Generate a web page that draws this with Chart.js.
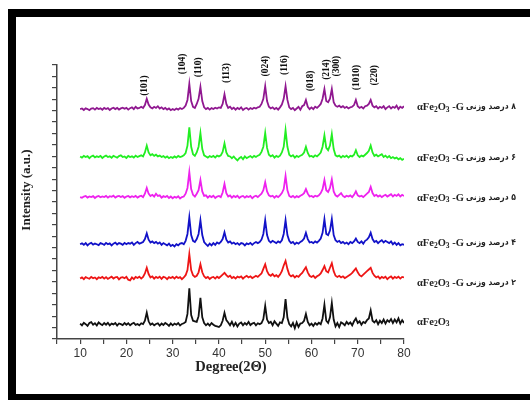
<!DOCTYPE html>
<html><head><meta charset="utf-8">
<script src="https://cdn.jsdelivr.net/npm/chart.js@4.4.0/dist/chart.umd.min.js"></script>
<style>html,body{margin:0;padding:0;background:#fff}#wrap{width:530px;height:400px}</style>
</head><body><div id="wrap"><canvas id="c" width="530" height="400"></canvas></div>
<script>
// 2θ sampling (degrees)
const angles=[
10,10.4,10.8,11.2,11.6,12,12.4,12.8,13.2,13.6,14,14.4,14.8,15.2,15.6,16,16.4,16.8,17.2,17.6,18,18.4,18.8,19.2,19.6,
20,20.4,20.8,21.2,21.6,22,22.4,22.8,23.2,23.6,24,24.4,24.8,25.2,25.6,26,26.4,26.8,27.2,27.6,28,28.4,28.8,29.2,29.6,
30,30.4,30.8,31.2,31.6,32,32.4,32.8,33.2,33.6,34,34.4,34.8,35.2,35.6,36,36.4,36.8,37.2,37.6,38,38.4,38.8,39.2,39.6,
40,40.4,40.8,41.2,41.6,42,42.4,42.8,43.2,43.6,44,44.4,44.8,45.2,45.6,46,46.4,46.8,47.2,47.6,48,48.4,48.8,49.2,49.6,
50,50.4,50.8,51.2,51.6,52,52.4,52.8,53.2,53.6,54,54.4,54.8,55.2,55.6,56,56.4,56.8,57.2,57.6,58,58.4,58.8,59.2,59.6,
60,60.4,60.8,61.2,61.6,62,62.4,62.8,63.2,63.6,64,64.4,64.8,65.2,65.6,66,66.4,66.8,67.2,67.6,68,68.4,68.8,69.2,69.6,
70,70.4,70.8,71.2,71.6,72,72.4,72.8,73.2,73.6,74,74.4,74.8,75.2,75.6,76,76.4,76.8,77.2,77.6,78,78.4,78.8,79.2,79.6,
80];

// intensities (a.u.) above each trace's own baseline
const pure=[
0.05,-0.1,0.12,0,-0.15,0.1,0.18,-0.05,0.08,-0.12,0.15,0.02,-0.08,0.1,-0.05,0.12,-0.1,0.05,-0.02,0.1,-0.12,0.06,0,-0.08,0.1,
-0.05,0.08,-0.1,0.04,0.12,-0.06,0.02,-0.1,0.08,0,0.3,1.0,0.25,-0.05,0.06,-0.1,0.02,0.08,-0.12,0.05,-0.08,0.1,0,-0.15,0.06,
-0.1,0.05,-0.05,0.1,-0.12,0.02,0.08,0.2,0.9,3.15,0.8,0.3,0.25,0.2,0.7,2.3,0.6,0.1,-0.1,0.05,-0.12,0.1,-0.05,-0.15,-0.2,
-0.25,-0.1,0.3,1.0,0.35,0.15,-0.1,0.2,-0.15,0.12,-0.2,0.05,0.15,-0.1,0.1,-0.05,0.2,-0.08,0.05,0.12,-0.1,0.08,0,0.1,0.45,
1.6,0.4,0.1,0.2,-0.1,0.25,0.05,-0.15,0.15,0.1,0.6,2.2,0.55,0,-0.2,0.1,-0.35,0.15,-0.25,0.05,0.1,0.3,0.9,0.2,-0.1,
0.05,-0.15,0.1,-0.05,0.12,0,0.5,1.7,0.3,0.1,0.6,1.85,0.4,-0.2,0.1,-0.25,0.15,0.05,-0.1,0.2,0,0.15,-0.1,0.25,0.5,
0.1,0.25,-0.05,0.2,0.1,0.35,0.5,1.2,0.3,0.15,0.35,0,0.3,0.1,0.4,0.05,0.35,0.2,0.45,0.1,0.4,0.15,0.5,0.05,0.35,
0.1];
const g2=[
-0.05,0.05,-0.1,0.08,0,-0.06,0.1,-0.02,0.05,-0.1,0.06,0,0.1,-0.05,0.08,-0.08,0.02,0.12,-0.04,0.06,0.1,-0.12,0.04,0.08,-0.02,
0.1,-0.15,-0.2,0.05,-0.1,0.1,0,0.12,-0.05,0.1,0.4,0.9,0.35,0.05,0.15,-0.05,0.1,0,0.12,-0.08,0.1,0.05,-0.1,0.08,0,
0.1,-0.05,0.12,0,0.08,-0.1,0.05,0.25,0.7,2.1,0.7,0.25,0.1,0.2,0.5,1.2,0.5,0.15,0,0.1,-0.08,0.05,0.1,-0.05,0.12,
0,0.15,0.3,0.45,0.25,0.1,0.2,0,0.1,-0.05,0.12,0.05,0.15,-0.05,0.1,0.2,0.05,0.15,0,0.1,0.2,0.1,0.25,0.4,0.8,
1.2,0.6,0.3,0.2,0.35,0.15,0.25,0.1,0.3,0.6,1.1,1.5,0.8,0.3,0.15,0.25,0.05,0.2,0.1,0.3,0.45,0.7,0.95,0.5,0.2,
0.1,0.2,0,0.15,0.25,0.4,0.7,1.05,0.6,0.5,0.9,1.3,0.6,0.2,0.1,0.2,0.05,0.15,0,0.1,0.2,0.3,0.45,0.65,0.85,
0.5,0.25,0.15,0.3,0.45,0.6,0.75,0.9,0.45,0.2,0.05,0.15,-0.05,0.1,0,0.12,-0.1,0.05,0.15,-0.05,0.1,0,0.12,-0.05,0.1,
0.05];
const g4=[
0,0.08,-0.05,0.1,-0.1,0.05,0.12,-0.04,0.06,0,-0.08,0.1,0.04,-0.06,0.12,0,0.08,-0.1,0.05,0.15,-0.02,0.1,0.05,-0.05,0.12,
0,0.1,0.05,0.15,-0.05,0.1,0.2,0.05,0.12,0.2,0.45,0.95,0.4,0.15,0.25,0.1,0.2,0.05,0.15,-0.05,0.1,0,-0.1,0.05,-0.15,
-0.05,-0.2,0,-0.1,0.05,0.1,0,0.3,0.9,2.35,0.8,0.3,0.2,0.45,0.9,2.1,0.8,0.2,0,-0.15,0.05,-0.1,0.1,-0.05,0.15,
0.05,0.2,0.45,1.05,0.4,0.15,0.25,0.05,0.15,0,0.1,-0.05,0.1,0.05,-0.1,0.08,0,0.12,-0.05,0.1,0.2,0.1,0.2,0.4,0.9,
2.1,0.8,0.3,0.15,0.3,0.2,0.1,0.25,0.15,0.35,0.9,2.1,0.8,0.3,0.1,0.2,0,0.15,0.05,0.2,0.3,0.5,1.0,0.45,0.15,
0.2,0.1,0.25,0.15,0.3,0.5,1.0,2.2,0.9,0.8,1.2,2.2,0.8,0.35,0.2,0.3,0.1,0.2,0.05,0.15,0,0.2,0.1,0.25,0.5,
0.2,0.1,0.25,0.05,0.3,0.4,0.6,1.0,0.45,0.2,0.3,0.1,0.25,0.35,0.15,0.3,0.2,0.1,0.25,0,0.15,-0.05,0.1,-0.1,0,
-0.05];
const g5=[
0,-0.06,0.05,0.1,-0.04,0.06,0,0.08,-0.08,0.04,0.1,-0.02,0.06,0,0.1,-0.05,0.08,0.02,0.12,-0.04,0.06,0.1,0,0.08,-0.06,
0.05,0.1,-0.02,0.08,0,0.1,-0.05,0.06,0.12,0,0.3,0.8,0.3,0.1,0.2,0.05,0.3,0.1,0.15,-0.05,0.08,0,0.1,-0.08,0.05,
-0.1,0.02,-0.05,0.08,-0.12,0,0.05,0.3,0.8,2.2,0.7,0.2,0.05,0.3,0.6,1.5,0.5,0.1,0.15,-0.05,0.1,0,0.12,-0.08,0.05,
0.1,0,0.4,1.15,0.35,0.05,0.15,-0.05,0.1,0,0.12,-0.08,0.05,0.1,-0.05,0.08,0,0.1,-0.1,0.05,0.12,0,0.15,0.3,0.6,
1.3,0.5,0.15,0.05,0.12,-0.05,0.1,0,0.15,0.35,0.7,1.85,0.6,0.1,0,0.1,-0.05,0.08,0,0.12,0.2,0.35,0.7,0.3,0.05,
0.1,0,0.12,0.05,0.15,0.35,0.7,1.5,0.6,0.45,0.8,1.55,0.5,0.15,0.05,0.2,0.35,0.1,0,0.12,0.05,0.15,0,0.2,0.5,
0.15,0.05,0.12,0,0.15,0.3,0.45,0.9,0.35,0.1,0.2,0.05,0.15,0,0.12,0.2,0.05,0.15,0.25,0.05,0.2,0.1,0.25,0.05,0.2,
0.1];
const g6=[
0.05,-0.05,0.1,0,0.08,-0.1,0.05,0.12,-0.04,0.06,0,0.1,-0.08,0.04,0.12,0,0.06,-0.06,0.1,0.02,-0.05,0.08,0.15,0,0.05,
-0.08,0.1,0,0.06,-0.05,0.12,0,0.08,0.15,0.05,0.4,1.0,0.4,0.15,0.25,0.1,0.2,0.05,0.12,0,0.08,-0.06,0.05,-0.1,0,
-0.08,0.05,-0.05,0.1,0,0.05,0.15,0.35,1.0,2.6,0.9,0.25,0.1,0.4,0.9,2.1,0.7,0.15,0.05,-0.05,0.08,0,0.1,-0.05,0.12,
0.05,0.15,0.45,1.2,0.4,0.1,0.05,-0.1,0.05,-0.15,-0.3,-0.1,0,-0.2,0.05,-0.1,0,0.08,-0.05,0.1,0,0.12,0.2,0.45,0.9,
2.1,0.8,0.2,0.05,0.15,-0.05,0.1,0,0.12,0.4,0.9,2.35,0.9,0.2,0.05,0.15,-0.05,0.1,0,0.12,0.2,0.4,0.9,0.35,0.05,
0.1,0,0.15,0.05,0.2,0.4,0.9,1.9,0.8,0.6,1.0,2.0,0.7,0.15,0.05,0.12,-0.05,0.1,0,0.12,-0.05,0.1,0.05,0.2,0.6,
0.15,0,0.12,0.05,0.2,0.35,0.55,1.0,0.4,0.1,0.2,0.05,0.15,0.25,0,0.12,-0.05,0.08,-0.1,0,-0.12,-0.05,-0.2,-0.1,-0.25,
-0.15];
const g8=[
0,0.05,-0.08,0.06,0,-0.1,0.05,0.08,-0.05,0.1,0,0.06,-0.06,0.1,0,0.08,-0.08,0.05,0.12,0,0.1,-0.04,0.06,0.12,0.02,
0.1,-0.05,0.08,0.15,0,0.2,0.05,0.1,0.2,0.1,0.35,0.9,0.4,0.15,0.05,0.2,0.1,0.25,0.05,0.15,0,0.1,-0.05,0.05,-0.1,
0,-0.08,0.05,-0.05,0.08,0,0.1,0.3,0.8,2.2,0.7,0.2,0.1,0.45,0.9,1.95,0.7,0.15,0,0.1,-0.05,0.08,0,0.12,0.05,
0.15,0.1,0.45,1.3,0.45,0.1,0.2,0,0.12,-0.05,0.1,0,0.15,-0.08,0.05,0.1,-0.05,0.08,0,0.12,0.05,0.15,0.2,0.45,0.9,
2.0,0.7,0.2,0.05,0.15,0,0.1,-0.05,0.15,0.4,0.9,2.0,0.8,0.15,0,0.1,-0.1,0.05,0.2,-0.05,0.25,0.35,0.8,0.2,0,
0.15,0,0.2,0.1,0.25,0.45,0.9,1.75,0.7,0.6,0.9,1.75,0.6,0.3,0.2,0.3,0.15,0.25,0.1,0.2,0.05,0.15,0.2,0.35,0.8,
0.25,0.1,0.2,0.05,0.25,0.3,0.45,0.8,0.3,0.15,0.25,0.05,0.2,0.1,0.25,0,0.15,0.25,0.05,0.2,0.1,0.3,0,0.2,0.1,
0.25];

const seriesValues=[pure,g2,g4,g5,g6,g8];
const stackOffsets=[1.3,5.34,8.3,12.43,15.94,20.14];
const labelLevels=[1.5,4.9,8.4,12.35,15.85,20.3];
const formulaSuffix=['',' -G',' -G',' -G',' -G',' -G'];
const persianTags=['','۲ درصد وزنی','۴ درصد وزنی','۵ درصد وزنی','۶ درصد وزنی','۸ درصد وزنی'];
const colors=['#111111','#ee1515','#1212c8','#ee22ee','#22ee22','#901890'];

const hklLabels=['(101)','(104)','(110)','(113)','(024)','(116)','(018)','(214)','(300)','(1010)','(220)'];
const hklAngle=[24.0,32.2,35.5,41.7,50.0,54.1,59.9,63.3,65.5,69.8,73.7];
const hklLevel=[22.2,24.1,23.8,23.3,23.9,24.0,22.6,23.6,23.9,22.9,23.1];

const xTickLabels=[10,20,30,40,50,60,70,80];

const datasets=seriesValues.map((vals,s)=>({
  label:'s'+s,
  data:angles.map((a,i)=>({x:a,y:stackOffsets[s]+vals[i]})),
  borderColor:colors[s],borderWidth:1.8,pointRadius:0,fill:false,tension:0,borderJoinStyle:'miter'
}));

function drawFormula(ctx,x,y,suffix){
  const big='bold 10.5px "Liberation Serif"', small='bold 7.5px "Liberation Serif"';
  const parts=[['αFe',0],['2',1],['O',0],['3',1]];
  if(suffix) parts.push([suffix,0]);
  ctx.textAlign='left';ctx.textBaseline='middle';ctx.direction='ltr';
  let cx=x;
  for(const [t,sub] of parts){
    ctx.font=sub?small:big;
    ctx.fillText(t,cx,y+(sub?2.5:0));
    cx+=ctx.measureText(t).width;
  }
}

const deco={
  id:'deco',
  beforeDraw(chart){
    const c=chart.ctx;c.save();c.fillStyle='#fff';c.fillRect(0,0,chart.width,chart.height);c.restore();
  },
  afterDraw(chart){
    const c=chart.ctx, xs=chart.scales.x, ys=chart.scales.y;
    c.save();
    // frame
    c.fillStyle='#000';
    c.fillRect(8,9,522,8);
    c.fillRect(8,9,8,391);
    c.fillRect(8,394,522,6);
    // hkl labels
    c.fillStyle='#111';
    c.font='bold 9.5px "Liberation Serif"';
    c.textAlign='center';c.textBaseline='middle';
    hklLabels.forEach((t,i)=>{
      c.save();
      c.translate(xs.getPixelForValue(hklAngle[i]),ys.getPixelForValue(hklLevel[i]));
      c.rotate(-Math.PI/2);
      c.fillText(t,0,0);
      c.restore();
    });
    // series labels
    labelLevels.forEach((lv,s)=>{
      const py=ys.getPixelForValue(lv);
      c.fillStyle='#222';
      drawFormula(c,417,py,formulaSuffix[s]);
      if(persianTags[s]){
        c.font='bold 8.5px "DejaVu Sans Condensed", "DejaVu Sans"';
        c.direction='rtl';c.textAlign='right';c.textBaseline='middle';
        c.fillText(persianTags[s],516,py);
        c.direction='ltr';
      }
    });
    // axis titles
    c.fillStyle='#222';
    c.font='bold 14.5px "Liberation Serif"';
    c.textAlign='center';c.textBaseline='middle';
    c.fillText('Degree(2Θ)',231,367);
    c.save();
    c.translate(27,190);c.rotate(-Math.PI/2);
    c.font='bold 13px "Liberation Serif"';
    c.fillText('Intensity (a.u.)',0,0);
    c.restore();
    c.restore();
  }
};

new Chart(document.getElementById('c').getContext('2d'),{
  type:'line',
  data:{datasets},
  options:{
    responsive:false,animation:false,
    layout:{padding:{left:47,right:126,top:65,bottom:21}},
    plugins:{legend:{display:false},tooltip:{enabled:false}},
    scales:{
      x:{type:'linear',min:5,max:80,
        afterFit(s){s.height=40;},
        ticks:{stepSize:5,autoSkip:false,maxRotation:0,
          callback:(v)=>xTickLabels.includes(v)?String(v):'',
          font:{family:'Liberation Sans',size:12},color:'#333',padding:2},
        grid:{drawOnChartArea:false,drawTicks:true,tickLength:5,color:'#444',lineWidth:1.2},
        border:{display:true,color:'#444',width:1.5}},
      y:{min:0,max:24,
        afterFit(s){s.width=10;},
        ticks:{stepSize:1,autoSkip:false,callback:()=>''},
        grid:{drawOnChartArea:false,drawTicks:true,tickLength:5,color:'#444',lineWidth:1.2},
        border:{display:true,color:'#444',width:1.5}}
    }
  },
  plugins:[deco]
});
</script>
</body></html>
